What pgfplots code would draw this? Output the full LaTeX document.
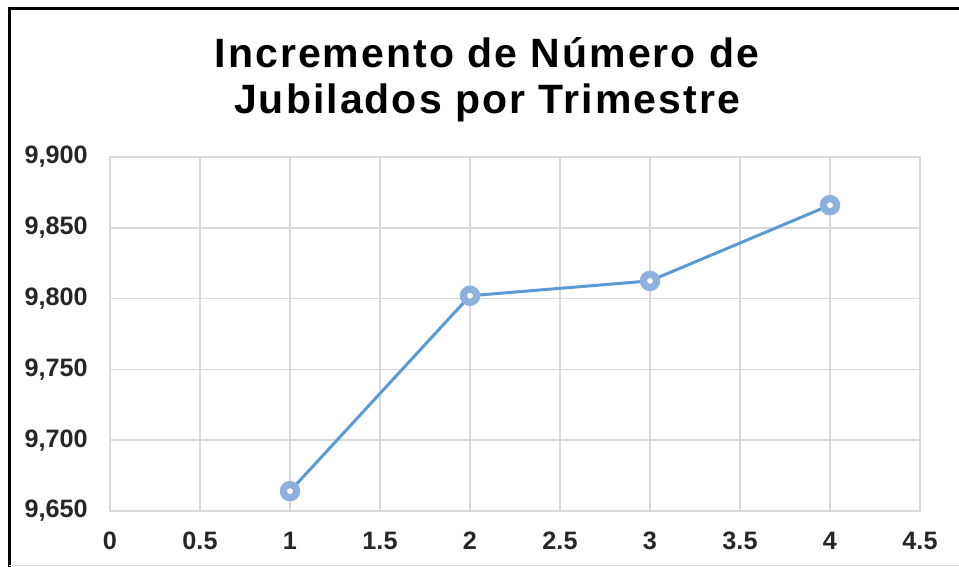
\documentclass[border=0pt]{standalone}
\usepackage{fontspec}
\setmainfont{Liberation Sans}
\newfontfamily\titlefont[LetterSpace=5]{Liberation Sans}
\usepackage{pgfplots}
\pgfplotsset{compat=1.18}
\definecolor{gridgray}{RGB}{217,217,217}
\definecolor{lineblue}{RGB}{91,155,213}
\definecolor{markblue}{RGB}{141,176,220}
\begin{document}
\begin{tikzpicture}
\path[use as bounding box] (0pt,0pt) rectangle (479.5pt,283.5pt);
\draw[black, line width=1.5pt] (4.5pt,0pt) -- (4.5pt,279.25pt) -- (479.5pt,279.25pt);
\draw[gridgray, line width=0.5pt] (4.5pt,0.8pt) -- (479.5pt,0.8pt);
\node[anchor=base, inner sep=0pt] at (243.5pt,249.5pt) {\titlefont\bfseries\fontsize{20.5}{23}\selectfont Incremento de Número de};
\node[anchor=base, inner sep=0pt] at (243.5pt,226.5pt) {\titlefont\bfseries\fontsize{20.5}{23}\selectfont Jubilados por Trimestre};
\begin{axis}[
  at={(55pt,28pt)}, anchor=south west,
  scale only axis, width=405pt, height=177pt,
  xmin=0, xmax=4.5, ymin=9650, ymax=9900,
  xtick={0,0.5,...,4.5}, ytick={9650,9700,...,9900},
  grid=major,
  major grid style={gridgray, line width=0.75pt},
  axis line style={gridgray, line width=0.75pt},
  major tick length=0pt,
  /pgf/number format/assume math mode=true,
  /pgf/number format/1000 sep={,},
  ticklabel style={font=\fontsize{12.6}{14}\selectfont\bfseries, text=black!85},
  xticklabel style={anchor=north, inner sep=0pt, yshift=-10.5pt},
  yticklabel style={anchor=east, inner sep=0pt, xshift=-11pt},
  clip=false,
]
\addplot[lineblue, line width=1.5pt, mark=*, mark size=3.3pt,
  mark options={fill=white, draw=markblue, line width=3.6pt}]
  coordinates {(1,9664) (2,9802) (3,9812.5) (4,9866)};
\end{axis}
\end{tikzpicture}
\end{document}
